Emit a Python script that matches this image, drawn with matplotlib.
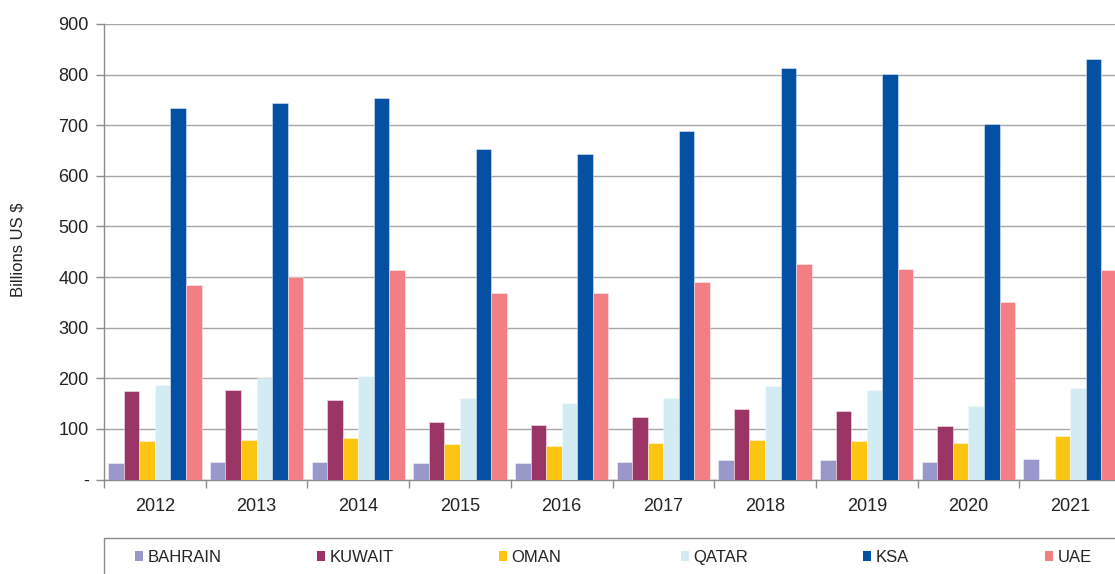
import matplotlib

matplotlib.use("Agg")

import matplotlib.pyplot as plt
import numpy as np
from matplotlib.patches import Patch, Rectangle
from matplotlib.ticker import FixedLocator, FuncFormatter

YEARS = ["2012", "2013", "2014", "2015", "2016", "2017", "2018", "2019", "2020", "2021"]
BAHRAIN = [32, 35, 35, 32, 32, 35, 39, 39, 35, 41]
KUWAIT = [174, 177, 158, 114, 107, 124, 140, 136, 105, np.nan]
OMAN = [76, 79, 82, 70, 66, 73, 79, 76, 73, 85]
QATAR = [187, 201, 205, 161, 152, 161, 184, 177, 146, 180]
KSA = [734, 744, 754, 653, 643, 689, 813, 801, 703, 831]
UAE = [385, 400, 414, 369, 369, 391, 426, 416, 351, 414]

SERIES = [
    ("BAHRAIN", BAHRAIN, "#9a98ca"),
    ("KUWAIT", KUWAIT, "#9b3565"),
    ("OMAN", OMAN, "#fbc512"),
    ("QATAR", QATAR, "#d3ebf3"),
    ("KSA", KSA, "#0450a3"),
    ("UAE", UAE, "#f37e83"),
]

GRID = "#a6a6a6"
AXIS = "#8c8c8c"
TEXT = "#222222"
W, H = 1115, 574

plt.rcParams["font.family"] = ["Liberation Sans", "DejaVu Sans"]

fig = plt.figure(figsize=(W / 100, H / 100), dpi=100)
ax = fig.add_axes([104 / W, 94.5 / H, 1017 / W, 455.5 / H])

x = np.arange(len(YEARS))
width = 0.153
for k, (name, values, color) in enumerate(SERIES):
    ax.bar(
        x + (k - 2.5) * width,
        values,
        width=width,
        color=color,
        edgecolor=(1, 1, 1, 0.5),
        linewidth=0.6,
        label=name,
        zorder=3,
    )

ax.set_xlim(-0.5, len(YEARS) - 0.5)
ax.set_ylim(0, 900)
ax.set_yticks(np.arange(0, 901, 100))
ax.yaxis.set_major_formatter(FuncFormatter(lambda v, _: "-" if v == 0 else f"{v:.0f}"))
ax.grid(True, axis="y", color=GRID, linewidth=1.0, zorder=0)
ax.set_axisbelow(True)

ax.set_xticks(x)
ax.set_xticklabels(YEARS)
ax.xaxis.set_minor_locator(FixedLocator(np.arange(-0.5, len(YEARS), 1.0)))
ax.tick_params(axis="x", which="major", length=0, pad=13, labelsize=13, colors=TEXT)
ax.tick_params(axis="x", which="minor", length=6, width=1, color=AXIS, direction="out")
ax.tick_params(axis="y", length=6, width=1, color=AXIS, pad=5, labelsize=13, labelcolor=TEXT)

for side in ("top", "right"):
    ax.spines[side].set_visible(False)
for side in ("left", "bottom"):
    ax.spines[side].set_color(AXIS)
    ax.spines[side].set_linewidth(1.0)

fig.text(18 / W, 1 - 250 / H, "Billions US $", rotation=90, ha="center", va="center",
         fontsize=12, color=TEXT)

# legend box (runs off the bottom and right edges, as in the source)
fig.add_artist(Rectangle((104 / W, -0.05), 1.0, 0.05 + 36 / H, transform=fig.transFigure,
                         facecolor="none", edgecolor=AXIS, linewidth=1.0))

legend_x0 = 135 / W
legend_step = 182 / W
for k, (name, _, color) in enumerate(SERIES):
    leg = fig.legend(
        [Patch(facecolor=color, edgecolor="none")],
        [name],
        loc="upper left",
        bbox_to_anchor=(legend_x0 + k * legend_step, 1 - 550 / H),
        fontsize=12,
        frameon=False,
        handlelength=0.5,
        handleheight=0.5,
        handletextpad=0.25,
        borderpad=0.0,
        borderaxespad=0.0,
    )
    for t in leg.get_texts():
        t.set_color(TEXT)

fig.savefig("out.png", dpi=100)
